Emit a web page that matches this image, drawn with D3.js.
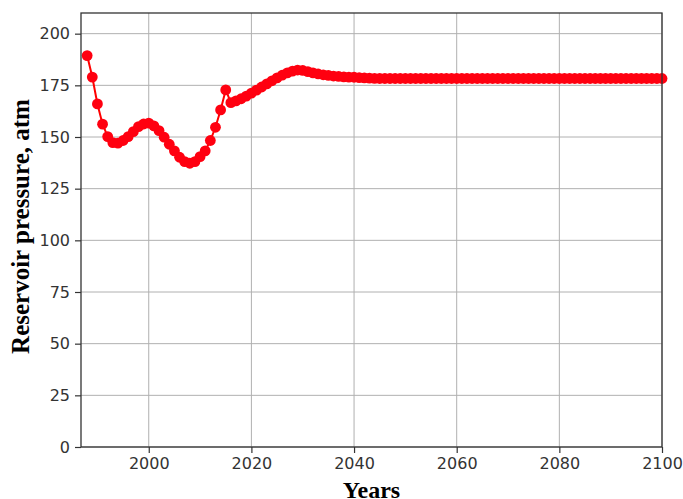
<!DOCTYPE html>
<html><head><meta charset="utf-8">
<script src="https://cdn.jsdelivr.net/npm/d3@7"></script>
<style>body{margin:0;background:#fff}svg{display:block}</style>
</head><body>
<svg id="c" width="683" height="499"></svg>
<script>
const years = d3.range(1988, 2101);
const pressure = [
  189.4, 179.0, 166.0, 156.2, 150.2, 147.3, 147.0, 148.3, 150.2, 152.6,
  155.0, 156.3, 156.7, 155.4, 153.1, 149.9, 146.5, 143.3, 140.2, 138.1,
  137.3, 138.1, 140.5, 143.3, 148.3, 154.7, 163.1, 172.8,
  166.6, 167.5, 168.5, 169.8, 171.2, 172.7, 174.2, 175.7, 177.2, 178.6,
  179.9, 181.0, 181.9, 182.4, 182.2, 181.6, 181.0, 180.5, 180.1, 179.8,
  179.5, 179.3, 179.1, 179.0, 178.9, 178.7, 178.6, 178.5, 178.4, 178.3,
  178.3, 178.3, 178.3, 178.3, 178.3, 178.3, 178.3, 178.3, 178.3, 178.3,
  178.3, 178.3, 178.3, 178.3, 178.3, 178.3, 178.3, 178.3, 178.3, 178.3,
  178.3, 178.3, 178.3, 178.3, 178.3, 178.3, 178.3, 178.3, 178.3, 178.3,
  178.3, 178.3, 178.3, 178.3, 178.3, 178.3, 178.3, 178.3, 178.3, 178.3,
  178.3, 178.3, 178.3, 178.3, 178.3, 178.3, 178.3, 178.3, 178.3, 178.3,
  178.3, 178.3, 178.3, 178.3, 178.3
];
const xTicks = [2000, 2020, 2040, 2060, 2080, 2100];
const yTicks = [0, 25, 50, 75, 100, 125, 150, 175, 200];
const xLabel = "Years";
const yLabel = "Reservoir pressure, atm";

const data = years.map((y, i) => ({x: y, y: pressure[i]})).filter(d => d.y != null);
const L = 81, R = 662, T = 13, B = 447;
const svg = d3.select("#c");
const x = d3.scaleLinear().domain([1986.8, 2100]).range([L, R]);
const y = d3.scaleLinear().domain([0, 210]).range([B, T]);

// grid
svg.append("g").selectAll("line").data(xTicks).join("line")
  .attr("x1", d => x(d)).attr("x2", d => x(d)).attr("y1", T).attr("y2", B)
  .attr("stroke", "#b0b0b0").attr("stroke-width", 1);
svg.append("g").selectAll("line").data(yTicks).join("line")
  .attr("y1", d => y(d)).attr("y2", d => y(d)).attr("x1", L).attr("x2", R)
  .attr("stroke", "#b0b0b0").attr("stroke-width", 1);

// axes
const xa = svg.append("g").attr("transform", `translate(0,${B})`)
  .call(d3.axisBottom(x).tickValues(xTicks).tickFormat(d3.format("d")).tickSize(6).tickPadding(5));
const ya = svg.append("g").attr("transform", `translate(${L},0)`)
  .call(d3.axisLeft(y).tickValues(yTicks).tickSize(6).tickPadding(5));
[xa, ya].forEach(a => {
  a.select(".domain").remove();
  a.selectAll("line").attr("stroke", "#333").attr("stroke-width", 1.2);
  a.selectAll("text").attr("fill", "#333").style("font-family", "DejaVu Sans").style("font-size", "16px");
});

// line + markers
svg.append("path").datum(data)
  .attr("d", d3.line().x(d => x(d.x)).y(d => y(d.y)))
  .attr("fill", "none").attr("stroke", "#ff0000").attr("stroke-width", 2);
svg.append("g").selectAll("circle").data(data).join("circle")
  .attr("cx", d => x(d.x)).attr("cy", d => y(d.y)).attr("r", 5.4)
  .attr("fill", "#ff0010");

// frame
svg.append("rect").attr("x", L).attr("y", T).attr("width", R - L).attr("height", B - T)
  .attr("fill", "none").attr("stroke", "#333").attr("stroke-width", 1.3);

// labels
svg.append("text").attr("x", (L + R) / 2).attr("y", 498).attr("text-anchor", "middle")
  .style("font-family", "Liberation Serif").style("font-weight", "bold").style("font-size", "24px")
  .text(xLabel);
svg.append("text").attr("transform", `translate(29,226.5) rotate(-90)`).attr("text-anchor", "middle")
  .style("font-family", "Liberation Serif").style("font-weight", "bold").style("font-size", "25px")
  .text(yLabel);
</script>
</body></html>
